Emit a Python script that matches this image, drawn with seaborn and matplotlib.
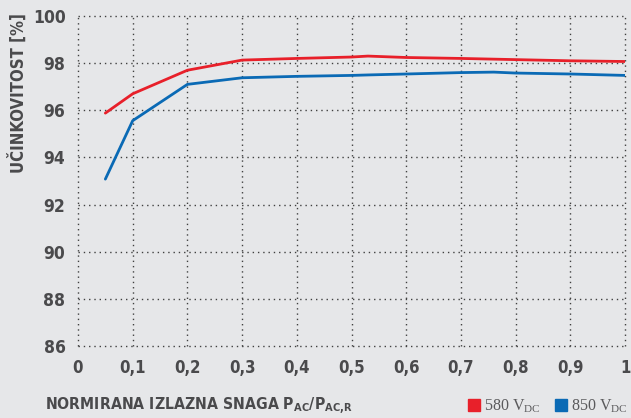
import numpy as np
import pandas as pd
import matplotlib
matplotlib.use("Agg")
import matplotlib.pyplot as plt
import seaborn as sns
from matplotlib.lines import Line2D

# data
snaga = [0.05, 0.1, 0.2, 0.3, 0.4, 0.5, 0.53, 0.6, 0.7, 0.76, 0.8, 0.9, 1.0]
ucinak_580 = [95.88, 96.7, 97.7, 98.13, 98.2, 98.26, 98.3, 98.24, 98.2, 98.17, 98.15, 98.1, 98.07]
ucinak_850 = [93.08, 95.56, 97.1, 97.38, 97.44, 97.48, 97.5, 97.54, 97.6, 97.62, 97.58, 97.54, 97.48]
serije = ["580", "850"]
boje = {"580": "#e8202a", "850": "#0a6ab5"}
y_ticks = [86, 88, 90, 92, 94, 96, 98, 100]
x_ticks = [0, 0.1, 0.2, 0.3, 0.4, 0.5, 0.6, 0.7, 0.8, 0.9, 1.0]
x_labels = ["0", "0,1", "0,2", "0,3", "0,4", "0,5", "0,6", "0,7", "0,8", "0,9", "1"]

df = pd.DataFrame({
    "snaga": snaga * 2,
    "ucinak": ucinak_580 + ucinak_850,
    "serija": ["580"] * len(snaga) + ["850"] * len(snaga),
})

bg = "#e6e7e9"
siva = "#4a4a4c"
sns.set_style("white", {"axes.facecolor": bg, "figure.facecolor": bg})
plt.rcParams["font.family"] = ["DejaVu Sans"]

fig = plt.figure(figsize=(6.31, 4.18), dpi=100)
ax = fig.add_axes([0.1236, 0.1722, 0.867, 0.7895])

sns.lineplot(data=df, x="snaga", y="ucinak", hue="serija", palette=boje,
             linewidth=2.0, ax=ax, legend=False, zorder=3)

ax.set_xlim(0, 1)
ax.set_ylim(86, 100)
ax.set_xticks(x_ticks)
ax.set_xticklabels(x_labels)
ax.set_yticks(y_ticks)
ax.grid(True, linestyle=(0, (1, 2.8)), color="#404040", linewidth=1.0)
for g in ax.get_xgridlines() + ax.get_ygridlines():
    g.set_clip_on(False)
for s in ax.spines.values():
    s.set_visible(False)
ax.tick_params(length=0, pad=9, labelcolor=siva)
for t in ax.get_xticklabels():
    t.set_fontweight("bold")
    t.set_fontstretch("condensed")
    t.set_fontsize(12)
for t in ax.get_yticklabels():
    t.set_fontweight("bold")
    t.set_fontstretch("condensed")
    t.set_fontsize(12.5)
ax.set_xlabel("")
ax.set_ylabel("")

fig.text(18 / 631, 1 - 93 / 418, "UČINKOVITOST [%]", rotation=90, ha="center", va="center",
         color=siva, fontsize=12, fontweight="bold", fontstretch="condensed")
fig.text(45 / 631, 1 - 406 / 418,
         r"NORMIRANA IZLAZNA SNAGA P$_\mathregular{AC}$/P$_\mathregular{AC{,}R}$",
         ha="left", va="center", color=siva, fontsize=11.3, fontweight="bold",
         fontstretch="condensed")

ruke = [Line2D([], [], marker="s", linestyle="none", markersize=8,
               markerfacecolor=boje[s], markeredgecolor=boje[s]) for s in serije]
leg = fig.legend(ruke, [s + r" V$_\mathregular{DC}$" for s in serije], loc="center right",
                 bbox_to_anchor=(1.0, 1 - 406 / 418), ncol=2, frameon=False,
                 handletextpad=0.15, columnspacing=0.75, borderaxespad=0.0,
                 borderpad=0.2, handlelength=1.0,
                 prop={"family": "Liberation Serif", "size": 11.5})
for t in leg.get_texts():
    t.set_color("#5a5a5c")

fig.savefig("out.png", dpi=100, facecolor=bg)
